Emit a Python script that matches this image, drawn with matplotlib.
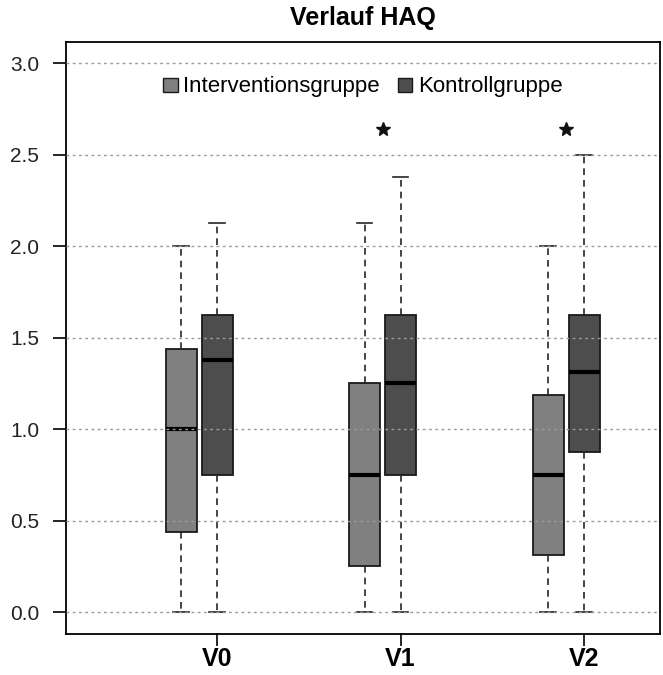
import numpy as np
import matplotlib
matplotlib.use("Agg")
import matplotlib.pyplot as plt
from matplotlib.patches import Patch

plt.rcParams['font.family'] = ['Liberation Sans', 'DejaVu Sans']

# HAQ summary per visit (whisker low, Q1, median, Q3, whisker high)
visits = ['V0', 'V1', 'V2']
groups = ['Interventionsgruppe', 'Kontrollgruppe']

interv_lo = [0.0, 0.0, 0.0]
interv_q1 = [0.4375, 0.25, 0.3125]
interv_med = [1.0, 0.75, 0.75]
interv_q3 = [1.4375, 1.25, 1.1875]
interv_hi = [2.0, 2.125, 2.0]

kontr_lo = [0.0, 0.0, 0.0]
kontr_q1 = [0.75, 0.75, 0.875]
kontr_med = [1.375, 1.25, 1.3125]
kontr_q3 = [1.625, 1.625, 1.625]
kontr_hi = [2.125, 2.375, 2.5]

# significance marks per visit
signif = [False, True, True]
star_y = 2.64

colors = ['#808080', '#4d4d4d']


def make_stats(lo, q1, med, q3, hi):
    return [dict(whislo=a, q1=b, med=c, q3=d, whishi=e, fliers=[])
            for a, b, c, d, e in zip(lo, q1, med, q3, hi)]


fig = plt.figure(figsize=(6.63, 6.75), dpi=100)
ax = fig.add_axes([66 / 663, 1 - 634 / 675, 594 / 663, 592 / 675])

pos = np.arange(1, len(visits) + 1)
offset = 0.196
width = 0.169

series = [
    (make_stats(interv_lo, interv_q1, interv_med, interv_q3, interv_hi), pos - offset, colors[0]),
    (make_stats(kontr_lo, kontr_q1, kontr_med, kontr_q3, kontr_hi), pos, colors[1]),
]
for stats, p, col in series:
    ax.bxp(stats, positions=p, widths=width, patch_artist=True, showfliers=False,
           capwidths=width * 0.5,
           boxprops=dict(facecolor=col, edgecolor='#1a1a1a', linewidth=1.3),
           medianprops=dict(color='black', linewidth=3, solid_capstyle='butt'),
           whiskerprops=dict(color='#262626', linewidth=1.2, linestyle=(0, (4, 3))),
           capprops=dict(color='#262626', linewidth=1.2))

star_x = [x for x, s in zip(pos - offset / 2, signif) if s]
ax.plot(star_x, [star_y] * len(star_x), linestyle='none', marker='*',
        markersize=10, color='#111111')

ax.set_xlim(0.177, 3.414)
ax.set_ylim(-0.12, 3.115)
ax.set_yticks(np.arange(0, 3.01, 0.5))
ax.set_yticklabels([f'{v:.1f}' for v in np.arange(0, 3.01, 0.5)])
ax.set_xticks(pos)
ax.set_xticklabels(visits, fontsize=18, fontweight='bold')

ax.tick_params(axis='y', labelsize=15, length=9.4, width=1.2, pad=10,
               labelcolor='#222222')
ax.tick_params(axis='x', length=8.5, width=1.2, pad=0.5)
ax.set_axisbelow(False)
ax.grid(axis='y', color='#9a9a9a', linestyle=(0, (2, 2.5)), linewidth=1.0)
for sp in ax.spines.values():
    sp.set_linewidth(1.3)

ax.set_title('Verlauf HAQ', fontsize=18, fontweight='bold', pad=12)

handles = [Patch(facecolor=c, edgecolor='#1a1a1a', linewidth=1.0) for c in colors]
ax.legend(handles, groups, loc='center', bbox_to_anchor=(0.5, 0.924), ncol=2,
          frameon=False, fontsize=16, handlelength=0.65, handleheight=0.6,
          handletextpad=0.25, columnspacing=0.8)

fig.savefig('out.png', dpi=100)
